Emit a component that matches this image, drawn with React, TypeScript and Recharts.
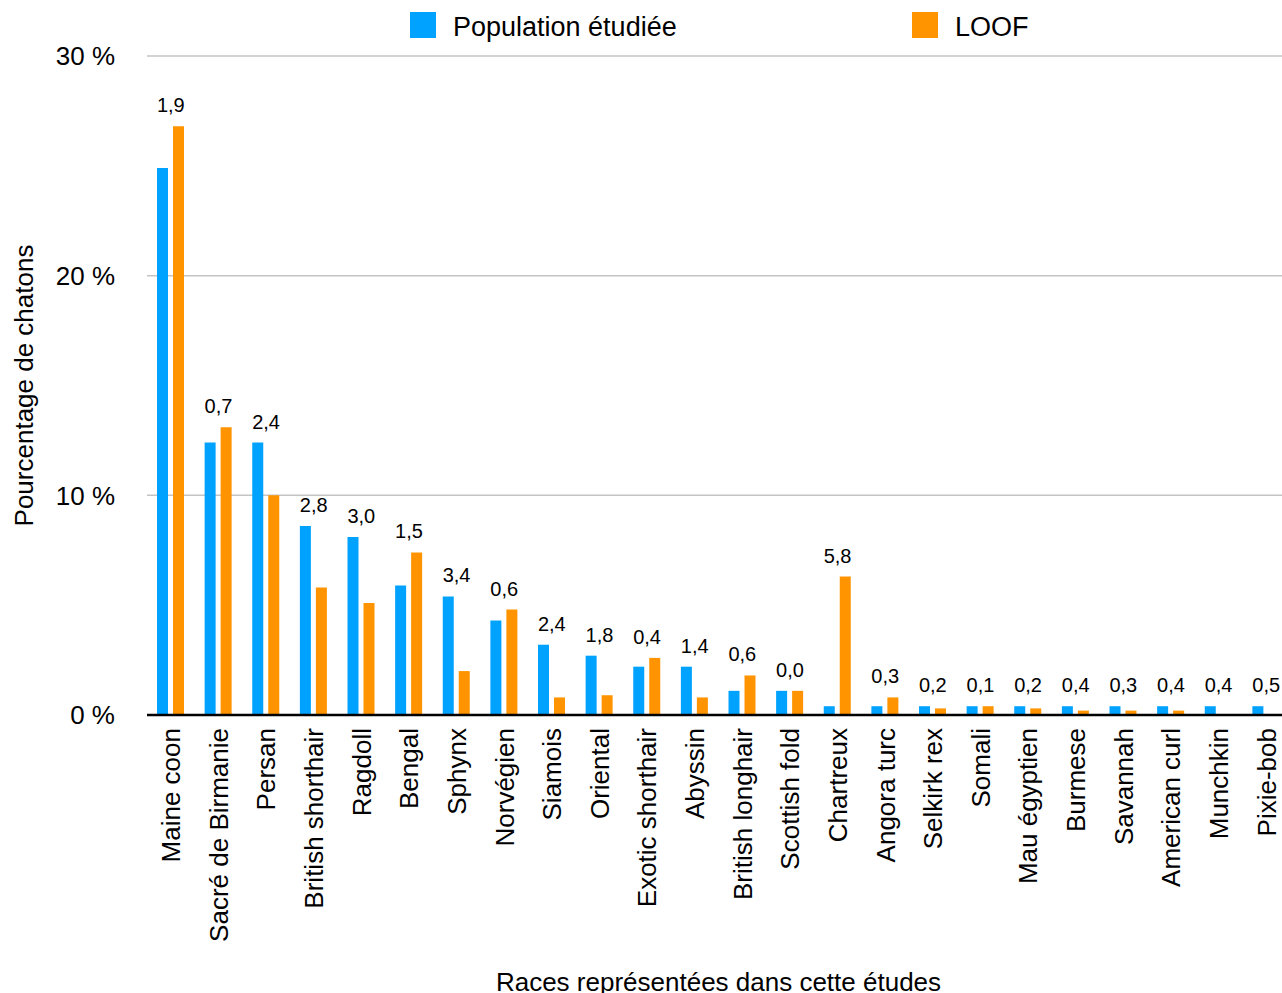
import React from 'react';
import {
  ComposedChart, Bar, Line, XAxis, YAxis, CartesianGrid, LabelList,
} from 'recharts';

const races = [
  'Maine coon', 'Sacré de Birmanie', 'Persan', 'British shorthair', 'Ragdoll', 'Bengal',
  'Sphynx', 'Norvégien', 'Siamois', 'Oriental', 'Exotic shorthair', 'Abyssin',
  'British longhair', 'Scottish fold', 'Chartreux', 'Angora turc', 'Selkirk rex', 'Somali',
  'Mau égyptien', 'Burmese', 'Savannah', 'American curl', 'Munchkin', 'Pixie-bob',
];

// % de chatons dans la population étudiée
const population = [
  24.9, 12.4, 12.4, 8.6, 8.1, 5.9, 5.4, 4.3, 3.2, 2.7, 2.2, 2.2,
  1.1, 1.1, 0.4, 0.4, 0.4, 0.4, 0.4, 0.4, 0.4, 0.4, 0.4, 0.4,
];

// % LOOF
const loof = [
  26.8, 13.1, 10.0, 5.8, 5.1, 7.4, 2.0, 4.8, 0.8, 0.9, 2.6, 0.8,
  1.8, 1.1, 6.3, 0.8, 0.3, 0.4, 0.3, 0.2, 0.2, 0.2, 0, 0,
];

// écart affiché au-dessus de chaque race
const ecarts = [
  1.9, 0.7, 2.4, 2.8, 3.0, 1.5, 3.4, 0.6, 2.4, 1.8, 0.4, 1.4,
  0.6, 0.0, 5.8, 0.3, 0.2, 0.1, 0.2, 0.4, 0.3, 0.4, 0.4, 0.5,
];

const yTicks = [0, 10, 20, 30];

const BLUE = '#00A2FF';
const ORANGE = '#FF9300';
const FONT = '"Liberation Sans", Arial, Helvetica, sans-serif';

const data = races.map((race, i) => ({
  race,
  population: population[i],
  loof: loof[i],
  ecart: ecarts[i],
  sommet: Math.max(population[i], loof[i]),
}));

const fmt = (v: number) => v.toFixed(1).replace('.', ',');

function RaceTick({ x, y, payload }: any) {
  return (
    <g transform={`translate(${x},${y})`}>
      <text
        x={0} y={0} dy="0.36em"
        textAnchor="end"
        transform="rotate(-90)"
        fontSize={26}
        fill="#000"
        fontFamily={FONT}
      >
        {payload.value}
      </text>
    </g>
  );
}

function EcartLabel({ x, y, value }: any) {
  return (
    <text x={x} y={y - 14} textAnchor="middle" fontSize={20} fill="#000" fontFamily={FONT}>
      {fmt(value)}
    </text>
  );
}

function YTitle({ viewBox }: any) {
  const cy = viewBox.y + viewBox.height / 2;
  return (
    <text
      x={25} y={cy}
      transform={`rotate(-90, 25, ${cy})`}
      textAnchor="middle"
      fontSize={26}
      fill="#000"
      fontFamily={FONT}
    >
      Pourcentage de chatons
    </text>
  );
}

function XTitle({ viewBox }: any) {
  return (
    <text
      x={viewBox.x + viewBox.width / 2} y={983}
      textAnchor="middle"
      fontSize={26}
      fill="#000"
      fontFamily={FONT}
    >
      Races représentées dans cette études
    </text>
  );
}

function LegendItem({ color, label, left }: { color: string; label: string; left: number }) {
  return (
    <>
      <div style={{ position: 'absolute', left, top: 4, width: 26, height: 26, background: color }} />
      <div
        style={{
          position: 'absolute', left: left + 43, top: 6, fontSize: 27, lineHeight: '27px',
          fontFamily: FONT, color: '#000', whiteSpace: 'nowrap',
        }}
      >
        {label}
      </div>
    </>
  );
}

export default function App() {
  return (
    <div style={{ position: 'relative', left: 8, top: 8, width: 1282, height: 985, fontFamily: FONT }}>
      {/* le graphique déborde volontairement à droite et en bas, comme l'original */}
      <style>{'html, body { margin: 0; overflow: hidden; width: 1282px; height: 993px; }'}</style>
      <ComposedChart
        width={1282}
        height={985}
        data={data}
        margin={{ top: 48, right: 0, bottom: 0, left: 0 }}
        barGap={5}
        barSize={11}
      >
        <CartesianGrid vertical={false} stroke="#c4c4c4" strokeWidth={1.5} />
        <YAxis
          width={139}
          domain={[0, 30]}
          ticks={yTicks}
          tickFormatter={(v: number) => `${v} %`}
          axisLine={false}
          tickLine={false}
          tickSize={0}
          tickMargin={32}
          tick={{ fontSize: 26, fill: '#000', fontFamily: FONT }}
          label={<YTitle />}
        />
        <XAxis
          dataKey="race"
          interval={0}
          height={278}
          tickLine={false}
          tickSize={0}
          tickMargin={13}
          axisLine={{ stroke: '#000', strokeWidth: 2.5 }}
          tick={<RaceTick />}
          label={<XTitle />}
        />
        <Bar dataKey="population" name="Population étudiée" fill={BLUE} isAnimationActive={false} />
        <Bar dataKey="loof" name="LOOF" fill={ORANGE} isAnimationActive={false} />
        <Line
          dataKey="sommet"
          stroke="none"
          dot={false}
          activeDot={false}
          legendType="none"
          isAnimationActive={false}
        >
          <LabelList dataKey="ecart" content={<EcartLabel />} />
        </Line>
      </ComposedChart>
      <LegendItem color={BLUE} label="Population étudiée" left={402} />
      <LegendItem color={ORANGE} label="LOOF" left={904} />
    </div>
  );
}
